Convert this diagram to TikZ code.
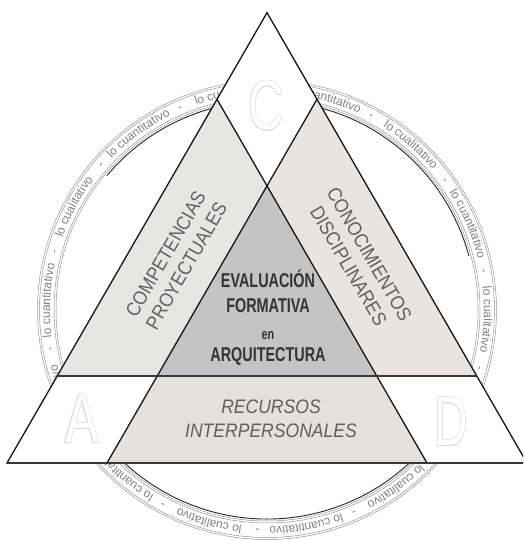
\documentclass[tikz,border=0pt]{standalone}
\usepackage{fontspec}
\setmainfont{Liberation Sans}
\newfontfamily\narrowfont[FakeStretch=0.72]{Liberation Sans}
\newfontfamily\bandfont[FakeStretch=0.9]{Liberation Sans}
\usepackage{contour}
\contourlength{0.45pt}
\contournumber{24}
\usetikzlibrary{decorations.text}
\definecolor{leftband}{HTML}{E6E7E5}
\definecolor{rightband}{HTML}{E7E4E2}
\definecolor{botband}{HTML}{E4E1DE}
\definecolor{centergray}{HTML}{C4C4C4}
\definecolor{ringline}{HTML}{959595}
\definecolor{ringtext}{HTML}{828282}
\definecolor{bandtext}{HTML}{606060}
\definecolor{maintext}{HTML}{333333}
\definecolor{letterline}{HTML}{DDDDDD}
\newcommand\ringfont{\fontsize{12}{12}\selectfont}
\begin{document}
\begin{tikzpicture}[x=1pt,y=1pt,
  edge/.style={line width=1.3pt, draw=black!92, line join=miter},
  hedge/.style={line width=1.8pt, draw=black!78},
  ringcircle/.style={draw=ringline, line width=0.5pt},
  shadowarc/.style={draw=black!85, line width=0.9pt},
  maintitle/.style={text=maintext, anchor=base, inner sep=0pt, font=\narrowfont\bfseries\fontsize{20}{20}\selectfont},
  bandlabel/.style={text=bandtext, align=center, inner sep=0pt, font=\bandfont\fontsize{19.5}{24}\selectfont},
  bigletter/.style={inner sep=0pt, font=\fontsize{70}{70}\selectfont},
  ringdash/.style={text=ringtext, anchor=base, inner sep=0pt, font=\ringfont}]
\useasboundingbox (0,0) rectangle (523,540);
\clip (0,0) rectangle (523,540);
\fill[white] (0,0) rectangle (523,540);

% named points
\coordinate (T) at (267,527.3);
\coordinate (A) at (7,77);
\coordinate (D) at (527,77);
\coordinate (PL) at (217,440.7);
\coordinate (PR) at (317,440.7);
\coordinate (M) at (267,354);
\coordinate (HL) at (57,163.6);
\coordinate (HR) at (477,163.6);
\coordinate (L) at (157,163.6);
\coordinate (R) at (377,163.6);
\coordinate (B1) at (107,77);
\coordinate (B2) at (427,77);
\coordinate (O) at (267,230);

% ring
\draw[ringcircle] (O) circle[radius=229.5pt];
\draw[ringcircle] (O) circle[radius=227.5pt];
\draw[ringcircle] (O) circle[radius=213pt];
\draw[ringcircle] (O) circle[radius=211pt];
\draw[shadowarc] ([shift={(140:209pt)}]O) arc[start angle=140, end angle=15, radius=209pt];
\draw[shadowarc] ([shift={(200:209pt)}]O) arc[start angle=200, end angle=340, radius=209pt];

\foreach \a in {-2.5,48.93,100.36,151.79,203.21,254.64,306.07}{
  \path[decorate, decoration={text along path, text align=center, text color=ringtext,
     text={|\ringfont|lo cualitativo}}]
     ([shift={({\a+14}:217pt)}]O) arc[start angle={\a+14}, end angle={\a-14}, radius=217pt];
}
\foreach \a in {23.21,74.64,126.07,177.5,228.93,280.36,331.79}{
  \path[decorate, decoration={text along path, text align=center, text color=ringtext,
     text={|\ringfont|lo cuantitativo}}]
     ([shift={({\a+14}:217pt)}]O) arc[start angle={\a+14}, end angle={\a-14}, radius=217pt];
}
\foreach \b [count=\i] in {10.36,36.07,61.79,87.5,113.21,138.93,164.64,190.36,216.07,241.79,267.5,293.21,318.93,344.64}{
  \node[ringdash, rotate=\b-90] (dash\i) at ([shift={(\b:217pt)}]O) {-};
}

% regions
\fill[white] (T) -- (PL) -- (M) -- (PR) -- cycle;
\fill[leftband] (PL) -- (M) -- (L) -- (HL) -- cycle;
\fill[rightband] (PR) -- (M) -- (R) -- (HR) -- cycle;
\fill[centergray] (M) -- (L) -- (R) -- cycle;
\fill[botband] (L) -- (R) -- (B2) -- (B1) -- cycle;
\fill[white] (HL) -- (L) -- (B1) -- (A) -- cycle;
\fill[white] (R) -- (HR) -- (D) -- (B2) -- cycle;

% big outline letters
\node[bigletter] (letterC) at (266,434) {\scalebox{0.7}[1]{\contour{letterline}{\color{white}C}}};
\node[bigletter] (letterA) at (82,121) {\scalebox{0.72}[1]{\contour{letterline}{\color{white}A}}};
\node[bigletter] (letterD) at (451,118) {\scalebox{0.66}[1]{\contour{letterline}{\color{white}D}}};

% lines
\draw[edge] (T) -- (A) -- (D) -- cycle;
\draw[edge] (PL) -- (B2);
\draw[edge] (PR) -- (B1);
\draw[hedge] (HL) -- (HR);
\draw[hedge] (A) -- (D);

% texts
\node[maintitle] (t1) at (268,252) {EVALUACIÓN};
\node[maintitle] (t2) at (268,227) {FORMATIVA};
\node[maintitle, font=\narrowfont\bfseries\fontsize{15}{15}\selectfont] (t3) at (268,200) {en};
\node[maintitle] (t4) at (268,178) {ARQUITECTURA};

\node[bandlabel, rotate=60] (comp) at (176,280) {COMPETENCIAS\\PROYECTUALES};
\node[bandlabel, rotate=-60] (cono) at (359,280) {CONOCIMIENTOS\\DISCIPLINARES};
\node[bandlabel, anchor=base, font=\bandfont\itshape\fontsize{19.5}{24}\selectfont] (rec1) at (271,126) {RECURSOS};
\node[bandlabel, anchor=base, font=\bandfont\itshape\fontsize{19.5}{24}\selectfont] (rec2) at (271,102) {INTERPERSONALES};
\end{tikzpicture}
\end{document}
